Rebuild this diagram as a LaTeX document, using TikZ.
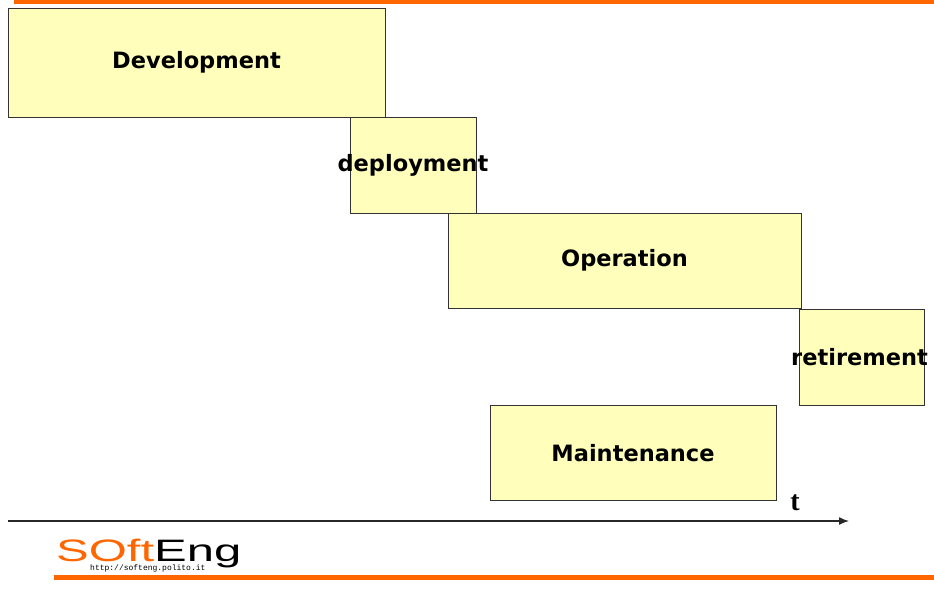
\documentclass[tikz,border=0pt]{standalone}
\usepackage{fontspec}
\usetikzlibrary{arrows.meta}
\newfontfamily\phasefont{DejaVu Sans}
\newfontfamily\logofont{Liberation Sans}
\newfontfamily\urlfont{Liberation Mono}
\newfontfamily\axisfont{Liberation Serif}
\definecolor{phasefill}{RGB}{255,255,187}
\definecolor{bandorange}{RGB}{255,102,0}
\definecolor{axisgray}{RGB}{40,40,40}
\tikzset{
	phase/.style={draw=black!80, fill=phasefill, line width=0.9pt, inner sep=0pt},
	phaselabel/.style={font=\phasefont\bfseries\fontsize{22.5}{24}\selectfont, inner sep=0pt},
}

\begin{document}
\begin{tikzpicture}[x=1pt, y=-1pt]
		%%%%% START %%%%%
		\useasboundingbox (0, 0) rectangle (934, 614);
		
		\fill[bandorange] (14, 0) rectangle (934, 4);
		\fill[bandorange] (54, 575) rectangle (934, 579.5);
		
		\node[phase, minimum width=377, minimum height=109] (dev) at (196.5, 62.5) {};
		\node[phase, minimum width=126, minimum height=96] (depl) at (413, 165) {};
		\node[phase, minimum width=353, minimum height=95] (oper) at (624.5, 260.5) {};
		\node[phase, minimum width=125, minimum height=96] (retire) at (861.5, 357) {};
		\node[phase, minimum width=286, minimum height=95] (maint) at (633, 453) {};
		
		\node[phaselabel] (devtext) at (dev) {Development};
		\node[phaselabel] (depltext) at (depl) {deployment};
		\node[phaselabel] (opertext) at (oper) {Operation};
		\node[phaselabel] (retiretext) at ([xshift=-2]retire.center) {retirement};
		\node[phaselabel] (mainttext) at (maint) {Maintenance};
		
		\coordinate (tstart) at (8, 521);
		\coordinate (tend) at (849, 521);
		\draw[axisgray, line width=1.4pt, -{Latex[length=10pt, width=8pt]}] (tstart) -- (tend);
		\node[font=\axisfont\bfseries\fontsize{28}{30}\selectfont, inner sep=0pt] (tlabel) at (795, 503) {t};
		
		\node[anchor=base west, inner sep=0pt, font=\logofont\fontsize{31}{33}\selectfont] (logo) at (56, 561)
			{\scalebox{1.58}[1]{\textcolor{bandorange}{SOft}Eng\vphantom{E}}};
		\node[anchor=base west, inner sep=0pt, font=\urlfont\fontsize{8}{9}\selectfont] (logourl) at (90, 570.5) {http://softeng.polito.it};
		
		%%%%% END %%%%%
	\end{tikzpicture}
\end{document}
